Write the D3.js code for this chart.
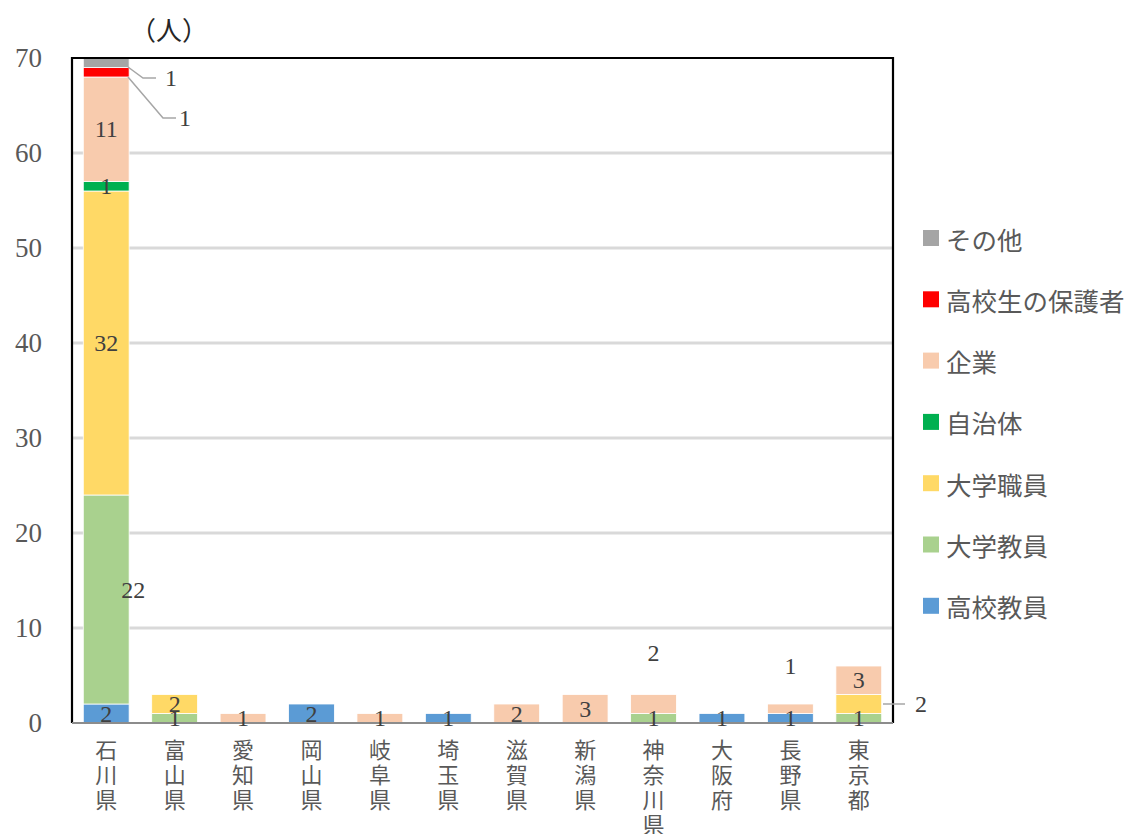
<!DOCTYPE html>
<html lang="ja">
<head>
<meta charset="utf-8">
<script src="https://cdn.jsdelivr.net/npm/d3@7"></script>
<style>
  html, body { margin: 0; padding: 0; background: #fff; }
  svg { display: block; }
</style>
</head>
<body>
<svg id="chart" width="1133" height="834"></svg>
<script>
// Prefectures along the x axis
const categories = ["石川県", "富山県", "愛知県", "岡山県", "岐阜県", "埼玉県", "滋賀県", "新潟県", "神奈川県", "大阪府", "長野県", "東京都"];

// Participant counts by affiliation (stacked bottom to top)
const highSchoolTeachers = [2, 0, 0, 2, 0, 1, 0, 0, 0, 1, 1, 0];
const universityFaculty  = [22, 1, 0, 0, 0, 0, 0, 0, 1, 0, 0, 1];
const universityStaff    = [32, 2, 0, 0, 0, 0, 0, 0, 0, 0, 0, 2];
const localGovernment    = [1, 0, 0, 0, 0, 0, 0, 0, 0, 0, 0, 0];
const companies          = [11, 0, 1, 0, 1, 0, 2, 3, 2, 0, 1, 3];
const parents            = [1, 0, 0, 0, 0, 0, 0, 0, 0, 0, 0, 0];
const others             = [1, 0, 0, 0, 0, 0, 0, 0, 0, 0, 0, 0];

const seriesNames = ["高校教員", "大学教員", "大学職員", "自治体", "企業", "高校生の保護者", "その他"];
const yTicks = [0, 10, 20, 30, 40, 50, 60, 70];

const seriesValues = [highSchoolTeachers, universityFaculty, universityStaff, localGovernment, companies, parents, others];
const colors = ["#5b9bd5", "#a9d18e", "#ffd966", "#00b050", "#f8cbad", "#ff0000", "#a5a5a5"];

const rows = categories.map((c, i) => {
  const r = { cat: c };
  seriesNames.forEach((s, k) => { r[s] = seriesValues[k][i]; });
  return r;
});
const stacked = d3.stack().keys(seriesNames)(rows);

const svg = d3.select("#chart");
const plotLeft = 72, plotRight = 893, plotTop = 58, plotBottom = 723;

const x = d3.scaleBand().domain(categories).range([plotLeft, plotRight]).paddingInner(0.33).paddingOuter(0.165);
const y = d3.scaleLinear().domain([0, 70]).range([plotBottom, plotTop]);

const serif = "'Liberation Serif', 'DejaVu Serif', serif";
const cjk = "'Noto Sans CJK JP', 'Noto Sans', sans-serif";

// Horizontal gridlines
svg.append("g").selectAll("line").data(yTicks.filter(t => t > 0 && t < 70)).join("line")
  .attr("x1", plotLeft).attr("x2", plotRight)
  .attr("y1", d => y(d)).attr("y2", d => y(d))
  .attr("stroke", "#d9d9d9").attr("stroke-width", 3);

// Y axis tick labels
const yAxis = d3.axisLeft(y).tickValues(yTicks).tickSize(0).tickPadding(30);
const yg = svg.append("g").attr("transform", `translate(${plotLeft},0)`).call(yAxis);
yg.select(".domain").remove();
yg.selectAll("text").attr("font-family", serif).attr("font-size", 27).attr("fill", "#595959");

// Unit label
svg.append("text").attr("x", 169).attr("y", 40).attr("text-anchor", "middle")
  .attr("font-family", cjk).attr("font-size", 26).attr("fill", "#262626").text("（人）");

// Stacked bars
svg.append("g").selectAll("g").data(stacked).join("g")
  .attr("fill", (d, i) => colors[i])
  .selectAll("rect").data(d => d.filter(p => p[1] - p[0] > 0)).join("rect")
  .attr("x", d => x(d.data.cat))
  .attr("width", x.bandwidth())
  .attr("y", d => y(d[1]))
  .attr("height", d => y(d[0]) - y(d[1]))
  .attr("stroke", "#fff").attr("stroke-width", 0.8);

// Plot frame: black on left, top and right, grey baseline
svg.append("path").attr("d", `M${plotLeft},${plotBottom} V${plotTop} H${plotRight} V${plotBottom}`)
  .attr("fill", "none").attr("stroke", "#000").attr("stroke-width", 2.2);
svg.append("line").attr("x1", plotLeft).attr("x2", plotRight).attr("y1", plotBottom).attr("y2", plotBottom)
  .attr("stroke", "#8c8c8c").attr("stroke-width", 2);

// Data label placement adjustments (dx, dy in px, or leader line targets)
const labelAdjust = {
  "石川県|大学教員": { dx: 27, dy: -10 },
  "神奈川県|企業": { dx: 0, dy: -51 },
  "長野県|企業": { dx: 0, dy: -43 },
  "石川県|その他": { leader: [[128, 67], [143, 78], [156, 78]], tx: 171, ty: 78 },
  "石川県|高校生の保護者": { leader: [[128, 77], [163, 118], [176, 118]], tx: 185, ty: 118 },
  "東京都|大学職員": { leader: [[883, 704], [905, 704]], tx: 921, ty: 704 }
};

const labels = svg.append("g");
stacked.forEach((layer, k) => {
  layer.forEach(p => {
    const v = p[1] - p[0];
    if (v <= 0) return;
    const key = p.data.cat + "|" + seriesNames[k];
    const adj = labelAdjust[key] || {};
    let tx = x(p.data.cat) + x.bandwidth() / 2 + (adj.dx || 0);
    let ty = y((p[0] + p[1]) / 2) + (adj.dy || 0);
    if (adj.leader) {
      labels.append("polyline")
        .attr("points", adj.leader.map(q => q.join(",")).join(" "))
        .attr("fill", "none").attr("stroke", "#a6a6a6").attr("stroke-width", 1.5);
      tx = adj.tx; ty = adj.ty;
    }
    labels.append("text").attr("x", tx).attr("y", ty)
      .attr("text-anchor", "middle").attr("dominant-baseline", "central")
      .attr("font-family", serif).attr("font-size", 24).attr("fill", "#404040")
      .text(v);
  });
});

// Category labels, written vertically
svg.append("g").selectAll("text").data(categories).join("text")
  .attr("x", d => x(d) + x.bandwidth() / 2)
  .attr("y", 739)
  .style("writing-mode", "vertical-rl")
  .style("letter-spacing", "3px")
  .attr("font-family", cjk).attr("font-size", 22).attr("fill", "#595959")
  .text(d => d);

// Legend (top to bottom, reverse of the stack order)
const legendOrder = seriesNames.map((s, i) => ({ s, c: colors[i] })).reverse();
const lg = svg.append("g");
legendOrder.forEach((d, i) => {
  const cy = 238 + i * 61.3;
  lg.append("rect").attr("x", 923).attr("y", cy - 8).attr("width", 16).attr("height", 16).attr("fill", d.c);
  lg.append("text").attr("x", 946).attr("y", cy).attr("dominant-baseline", "central")
    .attr("font-family", cjk).attr("font-size", 25.5).attr("fill", "#595959").text(d.s);
});
</script>
</body>
</html>
